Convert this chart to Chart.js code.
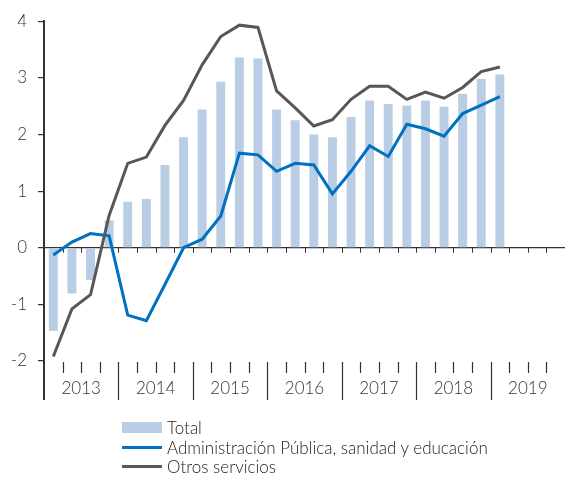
<!DOCTYPE html>
<html>
<head>
<meta charset="utf-8">
<script src="https://cdn.jsdelivr.net/npm/chart.js@4.4.1/dist/chart.umd.min.js"></script>
<style>
  html, body { margin: 0; padding: 0; background: #fff; }
  #wrap { position: relative; width: 565px; height: 479px; }
  #legend { position: absolute; left: 122px; top: 418px; font-family: Lato, sans-serif; font-weight: 300; font-size: 17px; color: #222; }
  #legend .row { display: flex; align-items: center; height: 19.5px; }
  #legend .sw { width: 40px; margin-right: 5px; }
</style>
</head>
<body>
<div id="wrap">
  <canvas id="chart" width="565" height="479"></canvas>
  <div id="legend"></div>
</div>
<script>
const years = ['2013', '2014', '2015', '2016', '2017', '2018', '2019'];
const quarterLabels = years.flatMap(y => ['I', 'II', 'III', 'IV'].map(q => q + ' ' + y));

// 2013 T1 .. 2019 T1
const totalValues = [-1.47, -0.81, -0.57, 0.48, 0.81, 0.86, 1.46, 1.95, 2.44, 2.93, 3.36, 3.34,
  2.44, 2.25, 2.00, 1.95, 2.31, 2.60, 2.54, 2.51, 2.60, 2.49, 2.72, 2.98, 3.06];
const adminValues = [-0.13, 0.10, 0.25, 0.21, -1.19, -1.29, -0.65, 0.00, 0.15, 0.56, 1.67, 1.64,
  1.35, 1.49, 1.46, 0.95, 1.35, 1.80, 1.61, 2.18, 2.10, 1.97, 2.37, 2.52, 2.67];
const otrosValues = [-1.92, -1.08, -0.83, 0.57, 1.49, 1.60, 2.16, 2.60, 3.23, 3.73, 3.93, 3.89,
  2.77, 2.47, 2.15, 2.26, 2.62, 2.85, 2.85, 2.62, 2.75, 2.64, 2.83, 3.11, 3.19];
const yTicks = [-2, -1, 0, 1, 2, 3, 4];

const seriesNames = ['Total', 'Administración Pública, sanidad y educación', 'Otros servicios'];
const axisColor = '#333';
const fontFamily = 'Lato, sans-serif';

// draws the quarter/year ticks and year labels under the chart
const axisDecor = {
  id: 'axisDecor',
  beforeDatasetsDraw(chart) {
    const { ctx, chartArea } = chart;
    const x = chart.scales.x, y = chart.scales.y;
    const y0 = y.getPixelForValue(0);
    const half = (x.getPixelForValue(1) - x.getPixelForValue(0)) / 2;
    ctx.save();
    ctx.strokeStyle = axisColor;
    ctx.lineWidth = 1;
    for (let i = 1; i < quarterLabels.length; i++) {
      const px = Math.round(x.getPixelForValue(i) - half) + 0.5;
      ctx.beginPath();
      ctx.moveTo(px, y0);
      ctx.lineTo(px, y0 + 5);
      ctx.stroke();
    }
    ctx.restore();
  },
  afterDraw(chart) {
    const { ctx, chartArea } = chart;
    const x = chart.scales.x;
    const half = (x.getPixelForValue(1) - x.getPixelForValue(0)) / 2;
    const b = chartArea.bottom;
    ctx.save();
    ctx.strokeStyle = axisColor;
    ctx.lineWidth = 1.2;
    for (let i = 1; i < quarterLabels.length; i++) {
      const px = Math.round(x.getPixelForValue(i) - half) + 0.5;
      const yearEdge = i % 4 === 0;
      ctx.beginPath();
      ctx.moveTo(px, b + 1);
      ctx.lineTo(px, yearEdge ? b + 39 : b + 12);
      ctx.stroke();
    }
    // y axis continues down through the year labels
    ctx.lineWidth = 2;
    ctx.beginPath();
    ctx.moveTo(chartArea.left, b);
    ctx.lineTo(chartArea.left, b + 39);
    ctx.stroke();

    ctx.fillStyle = axisColor;
    ctx.font = '300 17px ' + fontFamily;
    ctx.textAlign = 'center';
    ctx.textBaseline = 'middle';
    years.forEach((yr, k) => {
      const cx = (x.getPixelForValue(k * 4 + 1) + x.getPixelForValue(k * 4 + 2)) / 2;
      ctx.fillText(yr, cx, b + 28);
    });
    ctx.restore();
  }
};

const ctx = document.getElementById('chart').getContext('2d');
const chart = new Chart(ctx, {
  type: 'bar',
  data: {
    labels: quarterLabels,
    datasets: [{
      label: seriesNames[0],
      data: totalValues,
      backgroundColor: '#b9cde5',
      categoryPercentage: 1,
      barPercentage: 0.48,
      order: 3
    }, {
      type: 'line',
      label: seriesNames[1],
      data: adminValues,
      borderColor: '#0070c0',
      borderWidth: 3,
      pointRadius: 0,
      tension: 0,
      order: 2
    }, {
      type: 'line',
      label: seriesNames[2],
      data: otrosValues,
      borderColor: '#575757',
      borderWidth: 3,
      pointRadius: 0,
      tension: 0,
      order: 1
    }]
  },
  options: {
    responsive: false,
    animation: false,
    layout: { padding: { top: 20, right: 0, bottom: 118, left: 0 } },
    plugins: {
      legend: { display: false },
      tooltip: { enabled: false }
    },
    scales: {
      x: {
        type: 'category',
        offset: true,
        display: false
      },
      y: {
        min: -2,
        max: 4,
        afterBuildTicks: scale => { scale.ticks = yTicks.map(v => ({ value: v })); },
        afterFit: scale => { scale.width = 44; },
        ticks: {
          color: axisColor,
          padding: 11,
          font: { family: fontFamily, size: 17, weight: 300 }
        },
        grid: {
          color: c => (c.tick && c.tick.value === 0) ? axisColor : 'rgba(0,0,0,0)',
          tickColor: axisColor,
          tickLength: 6,
          lineWidth: 1.2
        },
        border: { display: true, color: axisColor, width: 2 }
      }
    }
  },
  plugins: [axisDecor]
});

// legend
const legend = document.getElementById('legend');
chart.data.datasets.forEach((ds, i) => {
  const row = document.createElement('div');
  row.className = 'row';
  const sw = document.createElement('span');
  sw.className = 'sw';
  if (i === 0) {
    sw.style.height = '11px';
    sw.style.background = ds.backgroundColor;
  } else {
    sw.style.height = '3px';
    sw.style.background = ds.borderColor;
  }
  const txt = document.createElement('span');
  txt.textContent = ds.label;
  row.appendChild(sw);
  row.appendChild(txt);
  legend.appendChild(row);
});
</script>
</body>
</html>
